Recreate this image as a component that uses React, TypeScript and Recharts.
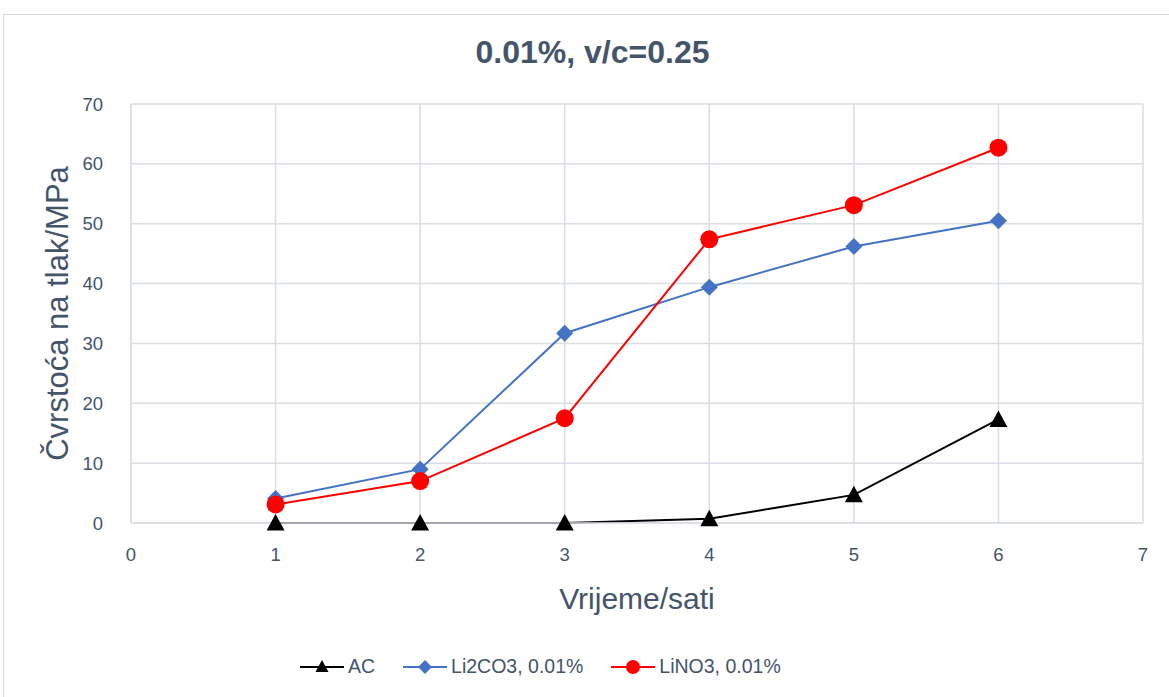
import React from 'react';
import { LineChart, Line, XAxis, YAxis, CartesianGrid, Legend, Label } from 'recharts';

const hours = [1, 2, 3, 4, 5, 6];
const acValues = [0, 0, 0, 0.7, 4.7, 17.3];
const li2co3Values = [4.1, 9.0, 31.7, 39.4, 46.2, 50.5];
const lino3Values = [3.1, 7.0, 17.5, 47.4, 53.1, 62.7];

const xTicks = [0, 1, 2, 3, 4, 5, 6, 7];
const yTicks = [0, 10, 20, 30, 40, 50, 60, 70];

const seriesNames = ['AC', 'Li2CO3, 0.01%', 'LiNO3, 0.01%'];

const TEXT = '#44546a';
const GRID = '#d9dde4';
const FONT = '"Liberation Sans", Arial, sans-serif';

const chartData = hours.map((h, i) => ({
  x: h,
  ac: acValues[i],
  li2co3: li2co3Values[i],
  lino3: lino3Values[i],
}));

function TriangleDot(props: any) {
  const { cx, cy } = props;
  if (cx == null || cy == null) return null;
  return <path d={`M${cx},${cy - 9} L${cx + 9},${cy + 7.5} L${cx - 9},${cy + 7.5} Z`} fill="#000" />;
}

function DiamondDot(props: any) {
  const { cx, cy } = props;
  if (cx == null || cy == null) return null;
  return <path d={`M${cx},${cy - 8.5} L${cx + 8.5},${cy} L${cx},${cy + 8.5} L${cx - 8.5},${cy} Z`} fill="#4472c4" />;
}

function CircleDot(props: any) {
  const { cx, cy } = props;
  if (cx == null || cy == null) return null;
  return <circle cx={cx} cy={cy} r={9} fill="#ff0000" />;
}

function LegendContent() {
  const items = [
    { name: seriesNames[0], color: '#000', marker: 'tri' },
    { name: seriesNames[1], color: '#4472c4', marker: 'dia' },
    { name: seriesNames[2], color: '#ff0000', marker: 'circ' },
  ];
  return (
    <div style={{ display: 'flex', alignItems: 'center', fontFamily: FONT, fontSize: 19.5, color: TEXT }}>
      {items.map((it) => (
        <div key={it.name} style={{ display: 'flex', alignItems: 'center', marginRight: 28 }}>
          <svg width={44} height={22} style={{ marginRight: 4 }}>
            <line x1={0} y1={11} x2={44} y2={11} stroke={it.color} strokeWidth={2} />
            {it.marker === 'tri' && <path d="M22,4 L28.5,16 L15.5,16 Z" fill={it.color} />}
            {it.marker === 'dia' && <path d="M22,4 L29,11 L22,18 L15,11 Z" fill={it.color} />}
            {it.marker === 'circ' && <circle cx={22} cy={11} r={7} fill={it.color} />}
          </svg>
          <span>{it.name}</span>
        </div>
      ))}
    </div>
  );
}

export default function App() {
  return (
    <div style={{ position: 'absolute', left: 0, top: 0, width: 1169, height: 697, background: '#fff', overflow: 'hidden' }}>
      <div
        style={{
          position: 'absolute',
          left: 3,
          top: 14,
          width: 1180,
          height: 700,
          border: '1px solid #d9d9d9',
          boxSizing: 'border-box',
        }}
      />
      <div
        style={{
          position: 'absolute',
          top: 34,
          left: 0,
          width: 1185,
          textAlign: 'center',
          fontFamily: FONT,
          fontWeight: 'bold',
          fontSize: 32,
          color: TEXT,
        }}
      >
        0.01%, v/c=0.25
      </div>
      <div style={{ position: 'absolute', left: 0, top: 0 }}>
        <LineChart
          width={1169}
          height={697}
          data={chartData}
          margin={{ top: 104, right: 26, bottom: 10, left: 40 }}
          style={{ fontFamily: FONT }}
        >
          <CartesianGrid stroke={GRID} strokeWidth={1.5} />
          <XAxis
            dataKey="x"
            type="number"
            domain={[0, 7]}
            ticks={xTicks}
            height={124}
            tick={{ fontSize: 18.5, fill: TEXT }}
            tickLine={false}
            axisLine={{ stroke: GRID, strokeWidth: 1.5 }}
            tickMargin={19}
          >
            <Label
              content={(p: any) => {
                const vb = p.viewBox;
                return (
                  <text x={vb.x + vb.width / 2} y={vb.y + 86} textAnchor="middle" fontSize={30} fill={TEXT} fontFamily={FONT}>
                    Vrijeme/sati
                  </text>
                );
              }}
            />
          </XAxis>
          <YAxis
            type="number"
            domain={[0, 70]}
            ticks={yTicks}
            width={91}
            tick={{ fontSize: 18.5, fill: TEXT }}
            tickLine={false}
            axisLine={{ stroke: GRID, strokeWidth: 1.5 }}
            tickMargin={22}
          >
            <Label
              content={(p: any) => {
                const vb = p.viewBox;
                const cx = 57;
                const cy = vb.y + vb.height / 2;
                return (
                  <text
                    x={cx}
                    y={cy}
                    transform={`rotate(-90 ${cx} ${cy})`}
                    textAnchor="middle"
                    dominantBaseline="central"
                    fontSize={31}
                    fill={TEXT}
                    fontFamily={FONT}
                  >
                    Čvrstoća na tlak/MPa
                  </text>
                );
              }}
            />
          </YAxis>
          <Legend
            verticalAlign="bottom"
            height={40}
            content={<LegendContent />}
            wrapperStyle={{ left: 300, width: 'auto', bottom: 2 }}
          />
          <Line
            name={seriesNames[0]}
            dataKey="ac"
            stroke="#000"
            strokeWidth={2}
            dot={<TriangleDot />}
            activeDot={false}
            isAnimationActive={false}
          />
          <Line
            name={seriesNames[1]}
            dataKey="li2co3"
            stroke="#4472c4"
            strokeWidth={2}
            dot={<DiamondDot />}
            activeDot={false}
            isAnimationActive={false}
          />
          <Line
            name={seriesNames[2]}
            dataKey="lino3"
            stroke="#ff0000"
            strokeWidth={2}
            dot={<CircleDot />}
            activeDot={false}
            isAnimationActive={false}
          />
        </LineChart>
      </div>
    </div>
  );
}
